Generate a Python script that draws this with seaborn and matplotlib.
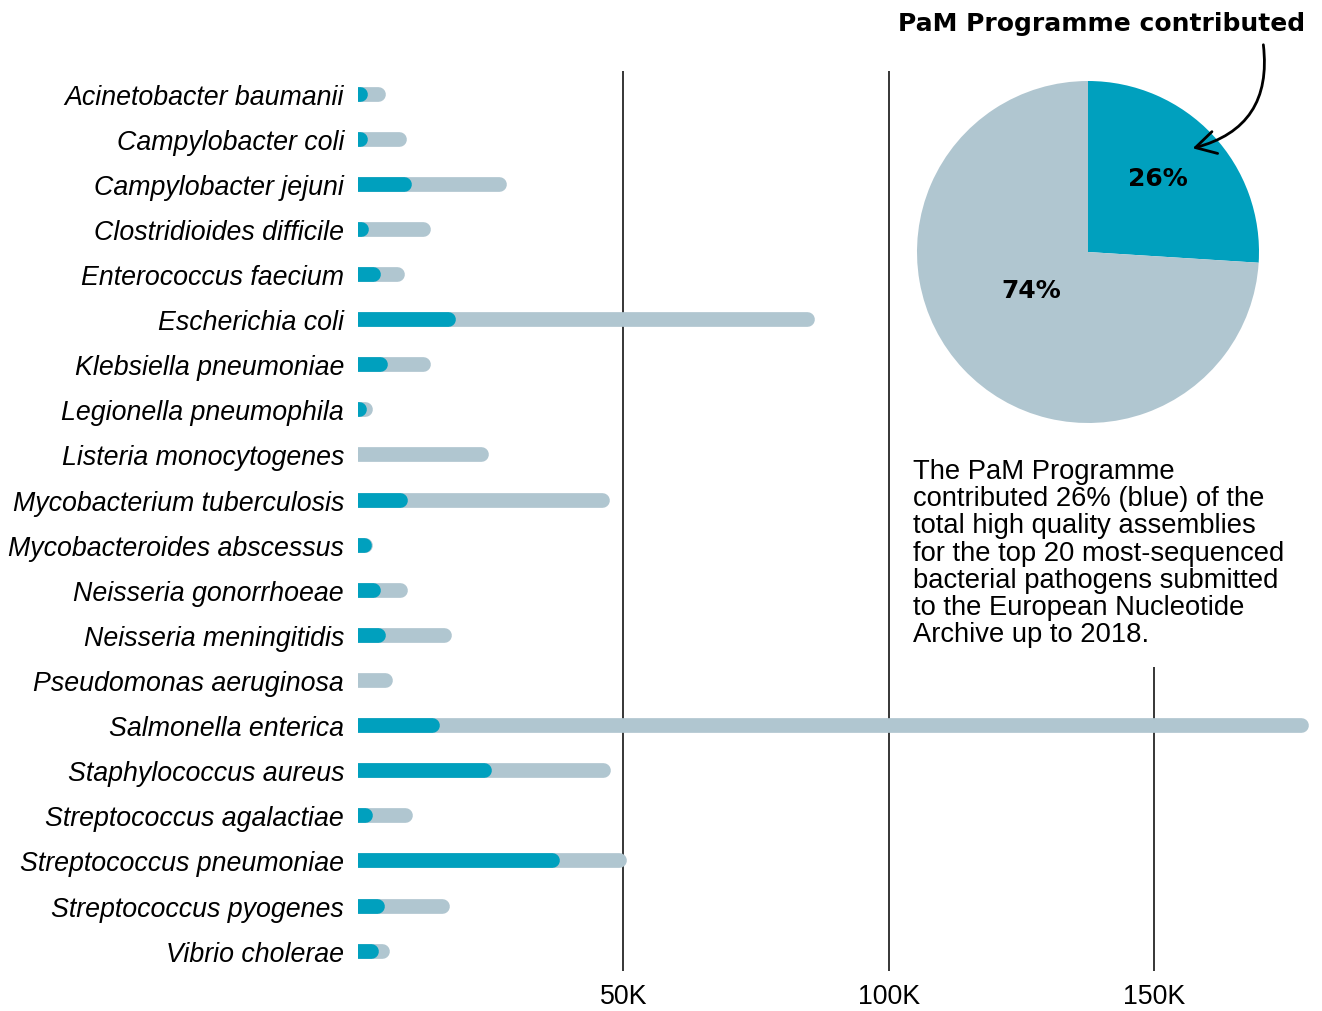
import matplotlib
matplotlib.use('Agg')
import matplotlib.pyplot as plt
import seaborn as sns
from matplotlib.patches import FancyArrowPatch, Rectangle

# Data (thousands of assemblies)
species = ["Acinetobacter baumanii", "Campylobacter coli", "Campylobacter jejuni",
           "Clostridioides difficile", "Enterococcus faecium", "Escherichia coli",
           "Klebsiella pneumoniae", "Legionella pneumophila", "Listeria monocytogenes",
           "Mycobacterium tuberculosis", "Mycobacteroides abscessus", "Neisseria gonorrhoeae",
           "Neisseria meningitidis", "Pseudomonas aeruginosa", "Salmonella enterica",
           "Staphylococcus aureus", "Streptococcus agalactiae", "Streptococcus pneumoniae",
           "Streptococcus pyogenes", "Vibrio cholerae"]
total_k = [3.8, 7.8, 26.6, 12.2, 7.4, 84.7, 12.2, 1.3, 23.1, 45.9,
           1.3, 7.9, 16.2, 5.0, 177.7, 46.2, 8.9, 49.2, 15.8, 4.6]
pam_k = [0.4, 0.3, 8.6, 0.6, 2.8, 17.0, 4.2, 0.1, 0.0, 7.9,
         1.1, 2.8, 3.8, 0.0, 14.0, 23.8, 1.3, 36.5, 3.5, 2.4]
tick_vals = [50, 100, 150]
tick_labels = ["50K", "100K", "150K"]
pie_labels = ["26%", "74%"]
pie_share = [26, 74]

blue = '#00a0be'
grey = '#b0c6d0'

sns.set_theme(style='white')
plt.rcParams['font.family'] = ['Liberation Sans', 'DejaVu Sans']
plt.rcParams['text.color'] = 'black'

W, H = 1322, 1012
fig = plt.figure(figsize=(W / 100, H / 100), dpi=100)

# bar axes: x=0 at 358px, y from 72px to 972px
ax = fig.add_axes([358 / W, 1 - 972 / H, (W - 358) / W, (972 - 72) / H])
# flat bars with a thick round-capped outline -> pill shaped bars
bar_lw = 10.6
for vals, col in [(total_k, grey), (pam_k, blue)]:
    sns.barplot(x=vals, y=species, orient='h', color=col, saturation=1,
                edgecolor=col, linewidth=bar_lw, width=0.001, errorbar=None, ax=ax)
for p in ax.patches:
    p.set_joinstyle('round')
    p.set_capstyle('round')
    p.set_zorder(3)

ax.set_xlim(0, (W - 358) / ((1154 - 358) / 150))
ax.set_ylim(19.45, -0.5)
ax.set_xticks(tick_vals)
ax.set_xticklabels(tick_labels)
for v in tick_vals:
    ax.axvline(v, color='black', lw=1.1, zorder=1)
for s in ax.spines.values():
    s.set_visible(False)
ax.tick_params(axis='both', length=0, labelsize=19.3, colors='black')
ax.tick_params(axis='y', pad=10)
ax.tick_params(axis='x', pad=9)
for t in ax.get_yticklabels():
    t.set_fontstyle('italic')
ax.set_xlabel('')
ax.set_ylabel('')
ax.grid(False)

# white panel behind the pie and note (hides the top of the 150K line)
fig.patches.append(Rectangle((900 / W, 1 - 668 / H), (W - 900) / W, 668 / H,
                             transform=fig.transFigure, facecolor='white',
                             edgecolor='none', zorder=1))

# pie
r = 171
cx, cy = 1088, 253
pax = fig.add_axes([(cx - r) / W, 1 - (cy + r) / H, 2 * r / W, 2 * r / H], zorder=2)
pax.pie(pie_share, colors=[blue, grey], startangle=90, counterclock=False,
        wedgeprops=dict(linewidth=0))
pax.set_xlim(-1, 1)
pax.set_ylim(-1, 1)
pax.set_aspect('equal')
title_font = ['DejaVu Sans']
pax.text(0.41, 0.43, pie_labels[0], ha='center', va='center', fontsize=18,
         fontweight='bold', family=title_font)
pax.text(-0.33, -0.22, pie_labels[1], ha='center', va='center', fontsize=18,
         fontweight='bold', family=title_font)

fig.text(1305 / W, 1 - 24 / H, "PaM Programme contributed", ha='right', va='center',
         fontsize=18, fontweight='bold', family=title_font, zorder=3)

arrow = FancyArrowPatch((1263 / W, 1 - 43 / H), (1190 / W, 1 - 150 / H),
                        transform=fig.transFigure, connectionstyle='arc3,rad=-0.45',
                        arrowstyle='->,head_length=0.8,head_width=0.45',
                        mutation_scale=18, color='black', lw=2, zorder=4)
fig.patches.append(arrow)

note = ("The PaM Programme\ncontributed 26% (blue) of the\ntotal high quality assemblies\n"
        "for the top 20 most-sequenced\nbacterial pathogens submitted\n"
        "to the European Nucleotide\nArchive up to 2018.")
fig.text(913 / W, 1 - 459 / H, note, ha='left', va='top', fontsize=19.7,
         linespacing=1.06, color='black', zorder=3)

fig.savefig('out.png', dpi=100)
